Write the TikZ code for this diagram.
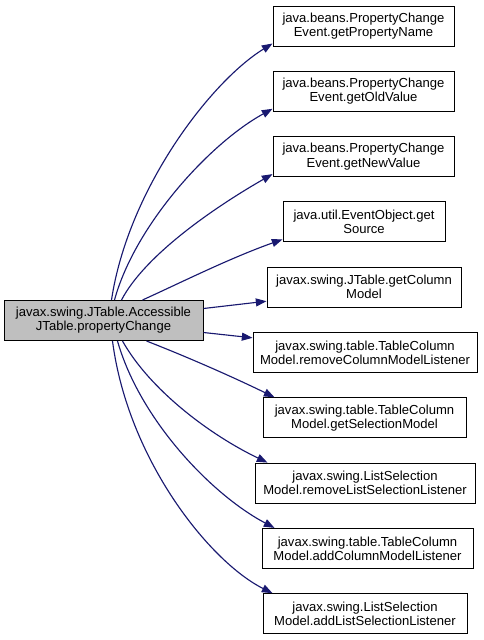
\documentclass[tikz,border=0pt]{standalone}
\usepackage{fontspec}
\setmainfont{Liberation Sans}
\usetikzlibrary{arrows.meta}
\definecolor{edgeblue}{HTML}{191970}
\definecolor{mainfill}{HTML}{BFBFBF}
\begin{document}
\begin{tikzpicture}[x=0.75pt,y=0.75pt,
  box/.style={draw=black, line width=0.75pt, fill=white, inner sep=0pt,
    minimum height=30pt, align=center,
    font=\fontsize{9.8pt}{10.6pt}\selectfont},
  bw/.style={minimum width=#1*0.75pt},
  call/.style={draw=edgeblue, line width=0.85pt,
    -{Triangle[length=8pt,width=6pt,fill=edgeblue]}}]
\useasboundingbox (0,0) rectangle (483,-640);
% nodes
\node[box, bw=199, fill=mainfill] (main) at (103.5,-320.5) {javax.swing.JTable.Accessible\\JTable.propertyChange};
\node[box, bw=181] (b1) at (363.5,-26) {java.beans.PropertyChange\\Event.getPropertyName};
\node[box, bw=181] (b2) at (363.5,-91.3) {java.beans.PropertyChange\\Event.getOldValue};
\node[box, bw=181] (b3) at (363.5,-156.6) {java.beans.PropertyChange\\Event.getNewValue};
\node[box, bw=162] (b4) at (364,-221.9) {java.util.EventObject.get\\Source};
\node[box, bw=194] (b5) at (364,-287.2) {javax.swing.JTable.getColumn\\Model};
\node[box, bw=224] (b6) at (365,-352.5) {javax.swing.table.TableColumn\\Model.removeColumnModelListener};
\node[box, bw=203] (b7) at (364.5,-417.8) {javax.swing.table.TableColumn\\Model.getSelectionModel};
\node[box, bw=220] (b8) at (365,-483.1) {javax.swing.ListSelection\\Model.removeListSelectionListener};
\node[box, bw=211] (b9) at (367.5,-548.4) {javax.swing.table.TableColumn\\Model.addColumnModelListener};
\node[box, bw=204] (b10) at (365,-613.7) {javax.swing.ListSelection\\Model.addListSelectionListener};
% edges
\draw[call] ([xshift=81pt]main.north west) .. controls (128,-190) and (210,-82) .. ([yshift=2.25pt]b1.south west);
\draw[call] ([xshift=83.25pt]main.north west) .. controls (135,-225) and (210,-143) .. ([yshift=2.25pt]b2.south west);
\draw[call] ([xshift=88.5pt]main.north west) .. controls (145,-255) and (215,-207) .. ([yshift=2.25pt]b3.south west);
\draw[call] ([xshift=104.25pt]main.north west) .. controls (180,-283) and (230,-258) .. ([yshift=2.25pt]b4.south west);
\draw[call] ([yshift=9pt]main.east) -- ([yshift=-10.5pt]b5.west);
\draw[call] ([yshift=-9pt]main.east) -- ([yshift=11pt]b6.west);
\draw[call] ([xshift=107.25pt]main.south west) .. controls (190,-358) and (235,-378) .. ([xshift=9pt]b7.north west);
\draw[call] ([xshift=89.25pt]main.south west) .. controls (150,-390) and (210,-435) .. ([xshift=9.75pt]b8.north west);
\draw[call] ([xshift=85.5pt]main.south west) .. controls (140,-420) and (212,-495) .. ([xshift=9.75pt]b9.north west);
\draw[call] ([xshift=81.75pt]main.south west) .. controls (128,-460) and (210,-562) .. ([xshift=7.5pt]b10.north west);
\end{tikzpicture}
\end{document}
